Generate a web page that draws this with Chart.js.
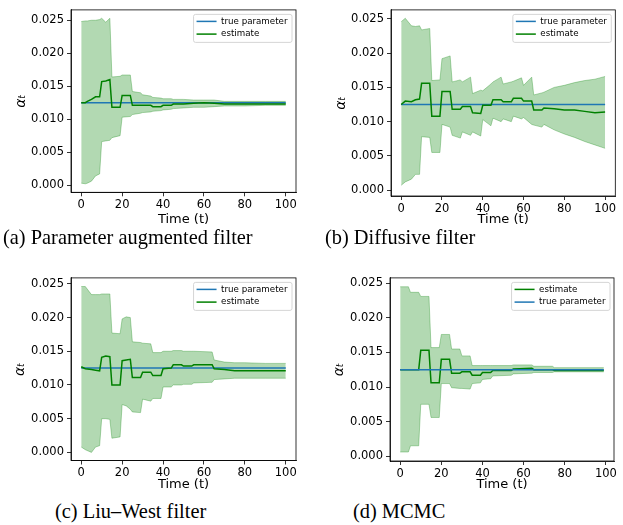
<!DOCTYPE html>
<html>
<head>
<meta charset="utf-8">
<script src="https://cdn.jsdelivr.net/npm/chart.js@4.4.0/dist/chart.umd.min.js"></script>
<style>
  body { margin: 0; background: #fff; }
  #fig { position: relative; width: 623px; height: 525px; overflow: hidden; background: #fff; }
  #fig canvas { position: absolute; }
  .cap { position: absolute; font-family: "Liberation Serif", "Times New Roman", serif; font-size: 20.4px; line-height: 20.4px; white-space: nowrap; color: #000; }
</style>
</head>
<body>
<div id="fig">
  <canvas id="painelA" width="311" height="228" style="left:0px;top:0px"></canvas>
  <canvas id="painelB" width="303" height="228" style="left:320px;top:0px"></canvas>
  <canvas id="painelC" width="311" height="228" style="left:0px;top:268px"></canvas>
  <canvas id="painelD" width="303" height="228" style="left:319px;top:268px"></canvas>
  <div class="cap" id="capA" style="left:3px;top:227px"></div>
  <div class="cap" id="capB" style="left:325px;top:227px"></div>
  <div class="cap" id="capC" style="left:55px;top:500.5px"></div>
  <div class="cap" id="capD" style="left:353px;top:500.5px"></div>
</div>
<script>
// tick labels / shared values
const xTicks = [0, 20, 40, 60, 80, 100];
const yTicks = [0, 0.005, 0.010, 0.015, 0.020, 0.025];
const trueParam = 0.0125;
const captions = ['(a) Parameter augmented filter', '(b) Diffusive filter', '(c) Liu\u2013West filter', '(d) MCMC'];

// (a) parameter augmented filter
const timeA  = [0, 2, 3, 5, 7, 9, 10, 12, 14, 15, 19, 20, 24, 25, 29, 30, 34, 35, 39, 40, 44, 45, 50, 55, 60, 65, 70, 80, 90, 100];
const estA   = [0.0125, 0.0125, 0.0127, 0.0130, 0.0134, 0.0134, 0.0157, 0.0158, 0.0160, 0.0118, 0.0118, 0.0136, 0.0136, 0.0121, 0.0121, 0.0121, 0.0121, 0.0119, 0.0119, 0.0121, 0.0121, 0.0123, 0.0123, 0.0124, 0.0125, 0.0124, 0.0123, 0.0123, 0.0123, 0.0123];
const upperA = [0.0248, 0.0249, 0.0249, 0.0250, 0.0250, 0.0251, 0.0253, 0.0247, 0.0253, 0.0164, 0.0165, 0.0167, 0.0167, 0.0142, 0.0140, 0.0137, 0.0135, 0.0133, 0.0132, 0.0131, 0.0131, 0.0130, 0.0130, 0.0129, 0.0129, 0.0129, 0.0127, 0.0127, 0.0127, 0.0127];
const lowerA = [0.0003, 0.0002, 0.0003, 0.0006, 0.0014, 0.0017, 0.0066, 0.0067, 0.0068, 0.0072, 0.0075, 0.0103, 0.0104, 0.0107, 0.0109, 0.0110, 0.0111, 0.0112, 0.0113, 0.0114, 0.0115, 0.0116, 0.0117, 0.0118, 0.0118, 0.0119, 0.0120, 0.0120, 0.0121, 0.0121];

// (b) diffusive filter
const timeB  = [0, 2, 5, 7, 9, 10, 14, 15, 19, 20, 24, 25, 29, 30, 34, 35, 39, 40, 44, 45, 49, 50, 54, 55, 59, 60, 64, 65, 69, 70, 75, 80, 85, 90, 95, 100];
const estB   = [0.0125, 0.0130, 0.0129, 0.0132, 0.0133, 0.0156, 0.0156, 0.0108, 0.0108, 0.0144, 0.0144, 0.0118, 0.0118, 0.0122, 0.0122, 0.0113, 0.0112, 0.0124, 0.0124, 0.0132, 0.0132, 0.0129, 0.0129, 0.0134, 0.0134, 0.0130, 0.0130, 0.0117, 0.0117, 0.0120, 0.0119, 0.0117, 0.0117, 0.0115, 0.0113, 0.0114];
const upperB = [0.0246, 0.0251, 0.0240, 0.0239, 0.0240, 0.0234, 0.0236, 0.0160, 0.0161, 0.0192, 0.0196, 0.0158, 0.0161, 0.0158, 0.0165, 0.0141, 0.0146, 0.0145, 0.0155, 0.0158, 0.0165, 0.0155, 0.0158, 0.0159, 0.0164, 0.0153, 0.0165, 0.0139, 0.0142, 0.0143, 0.0150, 0.0153, 0.0157, 0.0160, 0.0162, 0.0166];
const lowerB = [0.0007, 0.0012, 0.0016, 0.0023, 0.0023, 0.0078, 0.0077, 0.0055, 0.0055, 0.0096, 0.0092, 0.0080, 0.0076, 0.0085, 0.0080, 0.0085, 0.0079, 0.0103, 0.0094, 0.0105, 0.0100, 0.0104, 0.0100, 0.0108, 0.0104, 0.0106, 0.0096, 0.0095, 0.0092, 0.0096, 0.0088, 0.0082, 0.0077, 0.0071, 0.0066, 0.0061];

// (c) Liu-West filter
const timeC  = [0, 2, 5, 7, 9, 10, 12, 14, 15, 19, 20, 22, 24, 25, 29, 30, 34, 35, 39, 40, 44, 45, 49, 50, 54, 55, 64, 65, 70, 75, 80, 90, 100];
const estC   = [0.0127, 0.0124, 0.0123, 0.0122, 0.0121, 0.0141, 0.0143, 0.0142, 0.0100, 0.0100, 0.0136, 0.0137, 0.0138, 0.0111, 0.0111, 0.0119, 0.0119, 0.0114, 0.0114, 0.0124, 0.0125, 0.0130, 0.0130, 0.0128, 0.0128, 0.0130, 0.0130, 0.0124, 0.0123, 0.0121, 0.0121, 0.0121, 0.0121];
const upperC = [0.0246, 0.0246, 0.0234, 0.0234, 0.0234, 0.0235, 0.0235, 0.0235, 0.0177, 0.0176, 0.0198, 0.0201, 0.0200, 0.0164, 0.0163, 0.0162, 0.0161, 0.0148, 0.0148, 0.0150, 0.0150, 0.0151, 0.0151, 0.0150, 0.0150, 0.0150, 0.0149, 0.0137, 0.0134, 0.0133, 0.0133, 0.0132, 0.0132];
const lowerC = [0.0008, 0.0004, 0.0000, 0.0008, 0.0010, 0.0050, 0.0050, 0.0049, 0.0021, 0.0023, 0.0071, 0.0069, 0.0064, 0.0060, 0.0059, 0.0079, 0.0076, 0.0080, 0.0080, 0.0097, 0.0097, 0.0100, 0.0100, 0.0101, 0.0101, 0.0103, 0.0104, 0.0108, 0.0109, 0.0110, 0.0110, 0.0110, 0.0110];

// (d) MCMC
const timeD  = [0, 4, 5, 9, 10, 14, 15, 19, 20, 24, 25, 29, 30, 34, 35, 39, 40, 44, 45, 54, 55, 64, 65, 74, 75, 99];
const estD   = [0.0125, 0.0125, 0.0125, 0.0125, 0.0153, 0.0153, 0.0106, 0.0106, 0.0140, 0.0140, 0.0120, 0.0120, 0.0122, 0.0122, 0.0117, 0.0117, 0.0121, 0.0121, 0.0124, 0.0124, 0.0126, 0.0127, 0.0125, 0.0125, 0.0124, 0.0124];
const upperD = [0.0245, 0.0245, 0.0237, 0.0237, 0.0231, 0.0231, 0.0157, 0.0157, 0.0176, 0.0176, 0.0155, 0.0155, 0.0145, 0.0145, 0.0131, 0.0131, 0.0131, 0.0131, 0.0131, 0.0131, 0.0132, 0.0132, 0.0130, 0.0130, 0.0128, 0.0128];
const lowerD = [0.0006, 0.0006, 0.0015, 0.0015, 0.0075, 0.0075, 0.0056, 0.0056, 0.0105, 0.0105, 0.0099, 0.0098, 0.0098, 0.0097, 0.0105, 0.0106, 0.0111, 0.0112, 0.0116, 0.0117, 0.0119, 0.0120, 0.0121, 0.0121, 0.0122, 0.0122];

const BAND = 'rgba(0,128,0,0.3)';
const AZUL = '#1f77b4';
const VERDE = '#008000';
const FONTE = 'DejaVu Sans';

Chart.defaults.font.family = FONTE;

// frame on all four sides (matplotlib spines)
const molduraPlugin = {
  id: 'moldura',
  afterDatasetsDraw(chart) {
    const { ctx, chartArea: a } = chart;
    ctx.save();
    ctx.strokeStyle = '#000';
    ctx.lineWidth = 0.8;
    ctx.strokeRect(a.left, a.top, a.right - a.left, a.bottom - a.top);
    ctx.restore();
  }
};

// legend box inside the axes, upper right
const legendaPlugin = {
  id: 'legendaInterna',
  afterDraw(chart) {
    const itens = chart.data.datasets.filter(d => d.label);
    const { ctx, chartArea: a } = chart;
    ctx.save();
    ctx.font = '8.7px "' + FONTE + '"';
    const textW = Math.max(...itens.map(it => ctx.measureText(it.label).width));
    const pad = 3, handle = 20, gap = 4.5, rowH = 12.7;
    const w = pad + handle + gap + textW + pad + 1.5;
    const h = 28;
    const x = a.right - 4 - w;
    const y = a.top + 4.5;
    ctx.beginPath();
    ctx.roundRect(x, y, w, h, 2);
    ctx.fillStyle = 'rgba(255,255,255,0.8)';
    ctx.fill();
    ctx.strokeStyle = '#cccccc';
    ctx.lineWidth = 0.8;
    ctx.stroke();
    itens.forEach((it, i) => {
      const cy = y + 7 + i * rowH;
      ctx.beginPath();
      ctx.moveTo(x + pad, cy);
      ctx.lineTo(x + pad + handle, cy);
      ctx.strokeStyle = it.borderColor;
      ctx.lineWidth = 1.5;
      ctx.stroke();
      ctx.fillStyle = '#000';
      ctx.textBaseline = 'middle';
      ctx.textAlign = 'left';
      ctx.fillText(it.label, x + pad + handle + gap, cy);
    });
    ctx.restore();
  }
};

function pontos(times, vals) {
  return times.map((t, i) => ({ x: t, y: vals[i] }));
}

function construirPainel(canvasId, p) {
  const tFim = p.time[p.time.length - 1];

  const linhaVerdadeira = {
    label: 'true parameter',
    data: [{ x: p.time[0], y: trueParam }, { x: tFim, y: trueParam }],
    borderColor: AZUL, borderWidth: 1.5, pointRadius: 0, fill: false,
    order: p.verdadeiraPorCima ? 0 : 1
  };
  const linhaEstimativa = {
    label: 'estimate',
    data: pontos(p.time, p.est),
    borderColor: VERDE, borderWidth: 1.5, pointRadius: 0, fill: false,
    order: p.verdadeiraPorCima ? 1 : 0
  };
  const linhas = p.verdadeiraPorCima ? [linhaEstimativa, linhaVerdadeira] : [linhaVerdadeira, linhaEstimativa];

  new Chart(document.getElementById(canvasId), {
    type: 'line',
    data: {
      datasets: [
        { label: '', data: pontos(p.time, p.lower), borderColor: BAND, borderWidth: 1, pointRadius: 0, fill: false, order: 3 },
        { label: '', data: pontos(p.time, p.upper), borderColor: BAND, backgroundColor: BAND, borderWidth: 1, pointRadius: 0, fill: '-1', order: 2 },
        ...linhas
      ]
    },
    options: {
      responsive: false,
      animation: false,
      events: [],
      layout: { padding: { left: 0, top: p.top, right: p.right, bottom: 0 } },
      plugins: { legend: { display: false }, tooltip: { enabled: false } },
      scales: {
        x: {
          type: 'linear',
          min: p.xMin, max: p.xMax,
          afterBuildTicks: s => { s.ticks = xTicks.map(v => ({ value: v })); },
          afterFit: s => { s.height = p.xAxisH; },
          grid: { display: true, drawOnChartArea: false, drawTicks: true, tickLength: 4, tickWidth: 0.8, tickColor: '#000' },
          border: { display: true, color: '#000', width: 0.8 },
          ticks: { font: { size: 11.5 }, color: '#000', padding: 2, maxRotation: 0, autoSkip: false, callback: v => String(v) },
          title: { display: true, text: 'Time (t)', font: { size: 13 }, color: '#000', padding: { top: 0, bottom: p.xTitlePad } }
        },
        y: {
          type: 'linear',
          min: p.yMin, max: p.yMax,
          afterBuildTicks: s => { s.ticks = yTicks.map(v => ({ value: v })); },
          afterFit: s => { s.width = 71; },
          grid: { display: true, drawOnChartArea: false, drawTicks: true, tickLength: 4, tickWidth: 0.8, tickColor: '#000' },
          border: { display: true, color: '#000', width: 0.8 },
          ticks: { font: { size: 11.5 }, color: '#000', padding: 3, autoSkip: false, callback: v => v.toFixed(3) },
          title: { display: true, text: '\u03b1\u209c', font: { size: 14, style: 'italic' }, color: '#000', padding: { top: p.yTitlePad, bottom: 0 } }
        }
      }
    },
    plugins: [molduraPlugin, legendaPlugin]
  });
}

window.onload = function () {
  construirPainel('painelA', {
    time: timeA, est: estA, upper: upperA, lower: lowerA,
    xMin: -5, xMax: 105, yMin: -0.00109, yMax: 0.02657,
    top: 6.8, right: 15, xAxisH: 35.7, xTitlePad: 0.7, yTitlePad: 12.6
  });
  construirPainel('painelB', {
    time: timeB, est: estB, upper: upperB, lower: lowerB,
    xMin: -5, xMax: 105, yMin: -0.00086, yMax: 0.02632,
    top: 6.5, right: 7.7, xAxisH: 32, xTitlePad: 0.2, yTitlePad: 12.6
  });
  construirPainel('painelC', {
    time: timeC, est: estC, upper: upperC, lower: lowerC,
    xMin: -5, xMax: 105, yMin: -0.0012, yMax: 0.02588,
    top: 7, right: 15, xAxisH: 35.5, xTitlePad: 3.2, yTitlePad: 11.6
  });
  construirPainel('painelD', {
    time: timeD, est: estD, upper: upperD, lower: lowerD, verdadeiraPorCima: true,
    xMin: -4.95, xMax: 103.95, yMin: -0.0007, yMax: 0.02578,
    top: 5.5, right: 8, xAxisH: 35, xTitlePad: 3.2, yTitlePad: 11.9
  });

  ['capA', 'capB', 'capC', 'capD'].forEach((id, i) => {
    document.getElementById(id).textContent = captions[i];
  });
};
</script>
</body>
</html>
